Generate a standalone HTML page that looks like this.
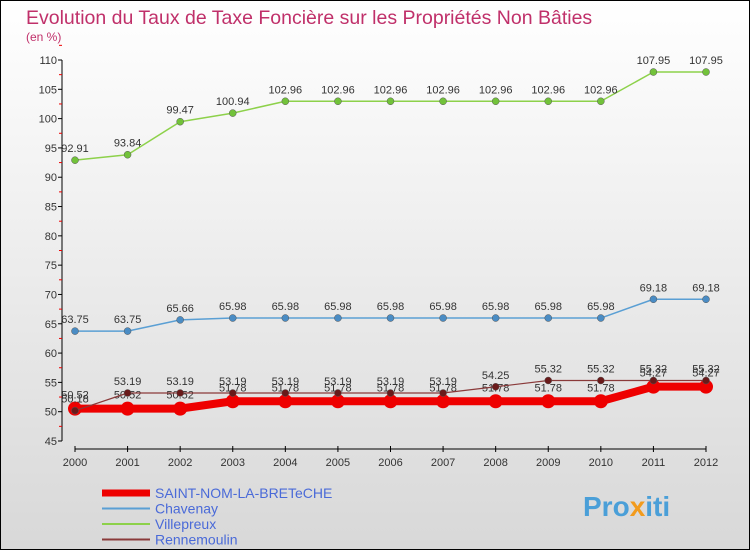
<!DOCTYPE html>
<html><head><meta charset="utf-8"><style>
body{margin:0}
#c{width:750px;height:550px;position:relative;overflow:hidden;font-family:"Liberation Sans",sans-serif}
</style></head><body>
<div id="c">
<svg id="s" width="750" height="550" xmlns="http://www.w3.org/2000/svg">
<defs><linearGradient id="bg" x1="0" y1="0" x2="0" y2="1"><stop offset="0" stop-color="#ffffff"/><stop offset="1" stop-color="#d8d8d8"/></linearGradient></defs>
<rect x="0.5" y="0.5" width="749" height="549" fill="url(#bg)" stroke="#000"/>
<text x="26" y="24" font-size="19.5" fill="#c0306a">Evolution du Taux de Taxe Foncière sur les Propriétés Non Bâties</text>
<text x="26" y="41" font-size="12" fill="#c0306a">(en %)</text>
<g id="axes"></g><g id="series"></g><g id="legend"></g>
<text x="583" y="516" font-size="28" font-weight="bold" fill="#4a9fd8">Pro<tspan fill="#f29b1d">x</tspan>iti</text>
</svg></div>
<script>
const years=[2000,2001,2002,2003,2004,2005,2006,2007,2008,2009,2010,2011,2012];
const yTicks=[45,50,55,60,65,70,75,80,85,90,95,100,105,110];
const seriesNames=["SAINT-NOM-LA-BRETeCHE","Chavenay","Villepreux","Rennemoulin"];
const saintNom=[50.52,50.52,50.52,51.78,51.78,51.78,51.78,51.78,51.78,51.78,51.78,54.27,54.27];
const chavenay=[63.75,63.75,65.66,65.98,65.98,65.98,65.98,65.98,65.98,65.98,65.98,69.18,69.18];
const villepreux=[92.91,93.84,99.47,100.94,102.96,102.96,102.96,102.96,102.96,102.96,102.96,107.95,107.95];
const rennemoulin=[50.18,53.19,53.19,53.19,53.19,53.19,53.19,53.19,54.25,55.32,55.32,55.32,55.32];
const NS="http://www.w3.org/2000/svg";
const X=i=>75+i*(706-75)/12;
const Y=v=>441-(v-45)*(441-60)/65;
function mk(p,t,a){const e=document.createElementNS(NS,t);for(const k in a)e.setAttribute(k,a[k]);p.appendChild(e);return e;}
const ax=document.getElementById('axes');
const yl=mk(ax,'line',{x1:62,y1:60,x2:62,y2:441,stroke:'#000'});


yTicks.forEach(v=>{
 const t=mk(ax,'line',{x1:58,x2:62,y1:Y(v),y2:Y(v),stroke:'#000'});
 
 
 const m=mk(ax,'line',{x1:59,x2:62,y1:Y(v+2.5),y2:Y(v+2.5),stroke:'#e00'});
 
 
 const l=mk(ax,'text',{x:57,y:Y(v)+4,'font-size':11,fill:'#333','text-anchor':'end'});
 l.textContent=v;
 
 
});
const xl=mk(ax,'line',{x1:75,y1:449,x2:706,y2:449,stroke:'#000'});


years.forEach((y,i)=>{
 const t=mk(ax,'line',{x1:X(i),x2:X(i),y1:446,y2:452,stroke:'#000'});
 
 
 const l=mk(ax,'text',{x:X(i),y:466,'font-size':11,fill:'#333','text-anchor':'middle'});
 l.textContent=y;
 
 
});
const sg=document.getElementById('series');
const defs=[
 {d:villepreux,c:'#8dd14a',f:'#72c23a',w:1.5,r:3.5,n:'villepreux'},
 {d:chavenay,c:'#5a9fd4',f:'#4a8cc4',w:1.5,r:3.5,n:'chavenay'},
 {d:saintNom,c:'#ee0000',f:'#ee0000',w:8,r:7,n:'saint-nom'},
 {d:rennemoulin,c:'#8a3a3a',f:'#6a1a1a',w:1.2,r:3.5,n:'rennemoulin'}];
defs.forEach(s=>{
 const g=mk(sg,'g',{});
 
 
 const pl=mk(g,'polyline',{points:s.d.map((v,i)=>X(i)+','+Y(v)).join(' '),fill:'none',stroke:s.c,'stroke-width':s.w,'stroke-linejoin':'round'});
 
 
 s.d.forEach((v,i)=>{
  const c=mk(g,'circle',{cx:X(i),cy:Y(v),r:s.r,fill:s.f,stroke:s.n=='saint-nom'?'#e00':'#555','stroke-width':s.n=='saint-nom'?0:0.5});
  
  
  const l=mk(g,'text',{x:X(i),y:Y(v)-(s.n=='saint-nom'?10:8),'font-size':11,fill:'#333','text-anchor':'middle'});
  l.textContent=v.toFixed(2);
  
  
 });
});
const lg=document.getElementById('legend');
const lc=['#ee0000','#5a9fd4','#8dd14a','#8a3a3a'],lw=[7,2,2,2];
seriesNames.forEach((n,i)=>{
 const y=493+i*15.5;
 const ln=mk(lg,'line',{x1:102,x2:150,y1:y,y2:y,stroke:lc[i],'stroke-width':lw[i]});
 
 
 const t=mk(lg,'text',{x:155,y:y+5,'font-size':14,fill:'#4a6ad8'});
 t.textContent=n;
 
 
});
</script>
</body></html>
